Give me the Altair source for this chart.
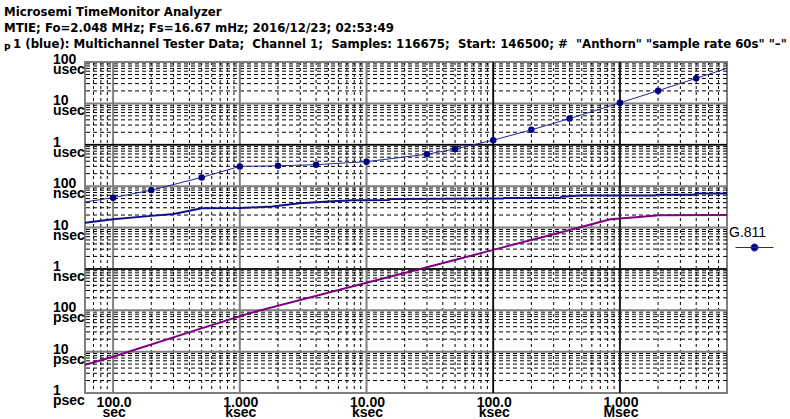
import altair as alt
import pandas as pd

# ---- MTIE data: observation interval tau (s), MTIE (ns) ----------------------
SERIES_NAME = "G.811"
G811_TAU = [60, 100, 200, 500, 1000, 2000, 4000, 10000, 30000, 50000,
            100000, 200000, 400000, 1000000, 2000000, 4000000, 7000000]
G811_NS = [41.5, 52.5, 80, 162.5, 300, 310, 330, 390, 590, 790,
           1290, 2290, 4290, 10290, 20290, 40290, 70290]

CH1_TAU = [60, 100, 200, 300, 500, 1000, 1800, 2970, 5400, 7770, 15000, 15500,
           93000, 120000, 122000, 340000, 345000, 490000, 1900000, 1950000,
           3900000, 3950000, 7000000]
CH1_NS = [13.1, 15.9, 19.1, 21.3, 29.2, 29.6, 32.0, 38.6, 43.2, 45.7, 46.0, 49.1,
          49.9, 50.0, 51.9, 51.9, 55.7, 59.0, 59.0, 62.3, 62.3, 65.9, 65.9]

REF_TAU = [60, 100, 483, 1200, 10000, 30000, 100000, 300000, 840000,
           1000000, 1490000, 2030000, 7000000]
REF_NS = [0.0048, 0.0075, 0.0355, 0.085, 0.46, 1.09, 2.88, 6.85, 15.9,
          16.4, 18.3, 19.8, 20.1]

# ---- axis ticks and labels -----------------------------------------------------
Y_TICKS = [0.001, 0.01, 0.1, 1, 10, 100, 1000, 10000, 100000]
Y_NUM = ["1", "10", "100", "1", "10", "100", "1", "10", "100"]
Y_UNIT = ["psec", "psec", "psec", "nsec", "nsec", "nsec", "usec", "usec", "usec"]
X_TICKS = [100, 1000, 10000, 100000, 1000000]
X_NUM = ["100.0", "1.000", "10.00", "100.0", "1.000"]
X_UNIT = ["sec", "ksec", "ksec", "ksec", "Msec"]
Y_DARK = [1, 1000]
X_DARK = [100000, 1000000]
MINOR = [2, 3, 4, 5, 6, 7, 8, 9]
X_MIN, X_MAX = 60, 7000000
Y_MIN, Y_MAX = 0.001, 100000

HEADER = [
    "Microsemi TimeMonitor Analyzer",
    "MTIE; Fo=2.048 MHz; Fs=16.67 mHz; 2016/12/23; 02:53:49",
    "1 (blue): Multichannel Tester Data; \u00a0Channel 1; \u00a0Samples: 116675; "
    "\u00a0Start: 146500; # \u00a0\"Anthorn\" \"sample rate 60s\" \"\u2013\"",
]
HEADER_TAG = "P"

y_minor = [m * d for d in Y_TICKS[:-1] for m in MINOR]
x_minor = [v for v in [70, 80, 90] + [m * d for d in X_TICKS for m in MINOR]
           if v < X_MAX]

xs = alt.Scale(type="log", domain=[X_MIN, X_MAX])
ys = alt.Scale(type="log", domain=[Y_MIN, Y_MAX])
X = lambda: alt.X("tau:Q", scale=xs, axis=None)
Y = lambda: alt.Y("ns:Q", scale=ys, axis=None)

LABEL_STYLE = dict(font="Liberation Sans", fontSize=14, fontWeight="bold",
                   color="black", baseline="alphabetic", lineBreak="\n",
                   lineHeight=10)


def hrules(values, **style):
    return alt.Chart(pd.DataFrame({"ns": values})).mark_rule(**style).encode(y=Y())


def vrules(values, **style):
    return alt.Chart(pd.DataFrame({"tau": values})).mark_rule(**style).encode(x=X())


grid = [
    hrules(y_minor, color="black", strokeWidth=1, strokeDash=[4, 3]),
    vrules(x_minor, color="black", strokeWidth=1, strokeDash=[3, 3]),
    hrules(Y_TICKS, color="#808080", strokeWidth=2),
    vrules(X_TICKS, color="#808080", strokeWidth=2),
    hrules(Y_DARK, color="black", strokeWidth=1.5),
    vrules(X_DARK, color="black", strokeWidth=1.5),
]

# ---- two-line tick labels (value on top, unit below) ---------------------------
x_lab = pd.DataFrame({"tau": X_TICKS,
                      "lab": [f"{n}\n{u}" for n, u in zip(X_NUM, X_UNIT)]})
y_lab = pd.DataFrame({"ns": Y_TICKS,
                      "lab": [f"{n}\n{u}" for n, u in zip(Y_NUM, Y_UNIT)]})
labels = [
    alt.Chart(x_lab).mark_text(align="center", dx=1, **LABEL_STYLE).encode(
        x=X(), y=alt.value(345), text="lab:N"),
    alt.Chart(y_lab).mark_text(align="left", dy=2, **LABEL_STYLE).encode(
        y=Y(), x=alt.value(-32), text="lab:N"),
]

ref_df = pd.DataFrame({"tau": REF_TAU, "ns": REF_NS})
ch1_df = pd.DataFrame({"tau": CH1_TAU, "ns": CH1_NS})
g811_df = pd.DataFrame({"tau": G811_TAU, "ns": G811_NS,
                        "series": [SERIES_NAME] * len(G811_TAU)})

ref_line = alt.Chart(ref_df).mark_line(color="#800080", strokeWidth=2, clip=True).encode(
    x=X(), y=Y())
ch1_line = alt.Chart(ch1_df).mark_line(color="#10108a", strokeWidth=2, clip=True).encode(
    x=X(), y=Y())
g811_line = alt.Chart(g811_df).mark_line(color="#2424a0", strokeWidth=1, clip=True).encode(
    x=X(), y=Y())

legend_symbol = ("M-3.8,0H3.8M-0.7,0A0.7,0.7,0,1,0,0.7,0"
                 "A0.7,0.7,0,1,0,-0.7,0Z")
g811_pts = alt.Chart(g811_df.iloc[1:-1]).mark_point(
    filled=True, size=42, shape="circle", opacity=1, clip=True).encode(
    x=X(), y=Y(),
    color=alt.Color("series:N",
                    scale=alt.Scale(domain=[SERIES_NAME], range=["#000080"]),
                    legend=alt.Legend(
                        orient="none", legendX=644, legendY=164,
                        title=SERIES_NAME, titleFont="Liberation Sans",
                        titleFontSize=14, titleFontWeight="normal",
                        titleColor="black", titlePadding=2, padding=0,
                        labelExpr="''", symbolType=legend_symbol,
                        symbolSize=100, symbolOffset=20,
                        symbolStrokeColor="#2424a0", symbolStrokeWidth=1,
                        symbolFillColor="#000080")),
)


def header_text(text, x, y, size=11.75):
    return alt.Chart(pd.DataFrame({"t": [text]})).mark_text(
        align="left", baseline="alphabetic", font="DejaVu Sans",
        fontSize=size, fontWeight="bold", color="black").encode(
        text="t:N", x=alt.value(x), y=alt.value(y))


headers = [
    header_text(HEADER[0], -81, -46),
    header_text(HEADER[1], -81, -30),
    header_text(HEADER[2], -72, -14),
    header_text(HEADER_TAG, -81, -11, size=9),
]

chart = alt.layer(*grid, ref_line, ch1_line, g811_line, g811_pts,
                  *labels, *headers).properties(
    width=642, height=331,
    autosize=alt.AutoSizeParams(type="none"),
    padding={"left": 85, "top": 62, "right": 63, "bottom": 26},
    background="white",
).configure_view(stroke="#808080", strokeWidth=2)

chart.save("out.html", embed_options={"renderer": "svg", "actions": False})
